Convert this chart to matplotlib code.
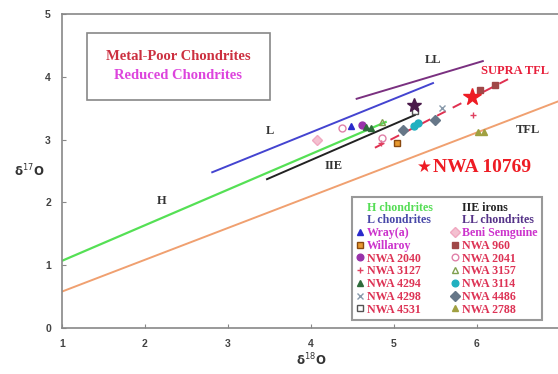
import matplotlib
matplotlib.use("Agg")
import matplotlib.pyplot as plt
from matplotlib.lines import Line2D
from matplotlib.patches import Rectangle

# ---- reference lines ----
H_x, H_y = [1.0, 4.9], [1.07, 3.28]
L_x, L_y = [2.81, 5.47], [2.48, 3.90]
LL_x, LL_y = [4.55, 6.07], [3.65, 4.25]
IIE_x, IIE_y = [3.47, 5.25], [2.37, 3.39]
TFL_x, TFL_y = [1.0, 7.0], [0.58, 3.62]
SUPRA_x, SUPRA_y = [4.77, 6.43], [2.87, 4.00]

# ---- meteorite points ----
names = ["Wray(a)", "Willaroy", "NWA 2040", "NWA 3127", "NWA 4294", "NWA 4298", "NWA 4531",
         "Beni Semguine", "NWA 960", "NWA 2041", "NWA 3157", "NWA 3114", "NWA 4486", "NWA 2788"]
pts_x = {"Wray(a)": [4.48], "Willaroy": [5.04], "NWA 2040": [4.61], "NWA 3127": [5.95, 4.84],
         "NWA 4294": [4.66, 4.72], "NWA 4298": [5.58], "NWA 4531": [5.25],
         "Beni Semguine": [4.07], "NWA 960": [6.04, 6.22], "NWA 2041": [4.86, 4.37],
         "NWA 3157": [4.86], "NWA 3114": [5.29, 5.24], "NWA 4486": [5.11, 5.49],
         "NWA 2788": [6.01, 6.08]}
pts_y = {"Wray(a)": [3.22], "Willaroy": [2.94], "NWA 2040": [3.23], "NWA 3127": [3.39, 2.95],
         "NWA 4294": [3.20, 3.19], "NWA 4298": [3.50], "NWA 4531": [3.45],
         "Beni Semguine": [2.99], "NWA 960": [3.79, 3.87], "NWA 2041": [3.02, 3.18],
         "NWA 3157": [3.28], "NWA 3114": [3.26, 3.22], "NWA 4486": [3.15, 3.31],
         "NWA 2788": [3.12, 3.12]}
NWA10769_x, NWA10769_y = [5.94], [3.68]
IIE_star_x, IIE_star_y = [5.24], [3.55]

xticks = [1, 2, 3, 4, 5, 6, 7]
yticks = [0, 1, 2, 3, 4, 5]

# styles: marker, face, edge, text color
sty = {"Wray(a)": ("^", "#2a2acc", "#2a2acc", "#cc33cc"),
       "Willaroy": ("s", "#e89a30", "#8a4a10", "#cc33cc"),
       "NWA 2040": ("o", "#9933aa", "#9933aa", "#dd3355"),
       "NWA 3127": ("+", "#e04060", "#e04060", "#dd3355"),
       "NWA 4294": ("^", "#2e6b3a", "#2e6b3a", "#dd3355"),
       "NWA 4298": ("x", "#8899aa", "#8899aa", "#dd3355"),
       "NWA 4531": ("s", "none", "#555555", "#dd3355"),
       "Beni Semguine": ("D", "#f4c0d0", "#f0a8c0", "#cc33cc"),
       "NWA 960": ("s", "#a04848", "#a04848", "#dd3355"),
       "NWA 2041": ("o", "none", "#e080a8", "#dd3355"),
       "NWA 3157": ("^", "none", "#80a050", "#dd3355"),
       "NWA 3114": ("o", "#20b0c0", "#20b0c0", "#dd3355"),
       "NWA 4486": ("D", "#667788", "#667788", "#dd3355"),
       "NWA 2788": ("^", "#a0a040", "#a0a040", "#dd3355")}

serif = "Liberation Serif"
fig = plt.figure(figsize=(5.58, 3.74), dpi=100)
ax = fig.add_axes([62/558, 46/374, 498/558, 314/374])
ax.set_xlim(1, 7)
ax.set_ylim(0, 5)

ax.plot(TFL_x, TFL_y, color="#f0a070", lw=1.4)
ax.plot(H_x, H_y, color="#55e055", lw=1.6)
ax.plot(L_x, L_y, color="#4444d0", lw=1.4)
ax.plot(LL_x, LL_y, color="#7a3080", lw=1.4)
ax.plot(IIE_x, IIE_y, color="#222222", lw=1.4)
ax.plot(SUPRA_x, SUPRA_y, color="#e03050", lw=1.4, ls=(0, (5, 4)))

for n in names:
    m, fc, ec, tc = sty[n]
    ax.plot(pts_x[n], pts_y[n], ls="none", marker=m, ms=5, mfc=fc, mec=ec, mew=1.0)
ax.plot(IIE_star_x, IIE_star_y, ls="none", marker="*", ms=10, mfc="#4a1a4a", mec="#4a1a4a")
ax.plot(NWA10769_x, NWA10769_y, ls="none", marker="*", ms=13, mfc="#ee1c24", mec="#ee1c24")

# labels on lines
lab = dict(fontfamily=serif, fontweight="bold", color="#333333", fontsize=9)
ax.text(2.2, 2.02, "H", ha="center", va="center", **lab)
ax.text(3.5, 3.14, "L", ha="center", va="center", **lab)
ax.text(5.47, 4.27, "LL", ha="center", va="center", **lab)
ax.text(4.27, 2.58, "IIE", ha="center", va="center", **lab)
ax.text(6.61, 3.15, "TFL", ha="center", va="center", **lab)
ax.text(6.46, 4.10, "SUPRA TFL", ha="center", va="center", fontfamily=serif,
        fontweight="bold", color="#e8203c", fontsize=9)
ax.text(5.37, 2.56, "★", ha="center", va="center", color="#ee1c24", fontsize=12,
        fontfamily="DejaVu Sans")
ax.text(5.47, 2.56, "NWA 10769", ha="left", va="center", color="#ee1c24", fontsize=14,
        fontfamily=serif, fontweight="bold")

# title box
ax.add_patch(Rectangle((0.050, 0.726), 0.368, 0.213, transform=ax.transAxes,
                       fc="white", ec="#888888", lw=1.2))
ax.text(0.233, 0.866, "Metal-Poor Chondrites", transform=ax.transAxes, ha="center", va="center",
        fontfamily=serif, fontweight="bold", fontsize=10.5, color="#cc3040")
ax.text(0.233, 0.803, "Reduced Chondrites", transform=ax.transAxes, ha="center", va="center",
        fontfamily=serif, fontweight="bold", fontsize=10.5, color="#dd44dd")

# legend
col1 = ["H chondrites", "L chondrites", "Wray(a)", "Willaroy", "NWA 2040", "NWA 3127",
        "NWA 4294", "NWA 4298", "NWA 4531"]
col2 = ["IIE irons", "LL chondrites", "Beni Semguine", "NWA 960", "NWA 2041", "NWA 3157",
        "NWA 3114", "NWA 4486", "NWA 2788"]
linecol = {"H chondrites": "#55dd55", "L chondrites": "#4848a8", "IIE irons": "#222222",
           "LL chondrites": "#553388"}
handles, labels, colors = [], [], []
for n in col1 + col2:
    if n in linecol:
        handles.append(Line2D([], [], ls="none"))
        colors.append(linecol[n])
    else:
        m, fc, ec, tc = sty[n]
        handles.append(Line2D([], [], ls="none", marker=m, ms=4.8, mfc=fc, mec=ec, mew=1.0))
        colors.append(tc)
    labels.append(n)
leg = ax.legend(handles, labels, ncol=2, loc="upper left",
                bbox_to_anchor=(352/558, 1-197/374), bbox_transform=fig.transFigure,
                prop=dict(family=serif, weight="bold", size=8.6), labelcolor=colors,
                handlelength=0.55, handletextpad=0.3, columnspacing=1.6, labelspacing=0.06,
                borderpad=0.4, borderaxespad=0, fancybox=False, framealpha=1)
leg.get_frame().set_edgecolor("#999999")
leg.get_frame().set_linewidth(1.5)

# axes styling
for s in ax.spines.values():
    s.set_color("#888888")
    s.set_linewidth(1.2)
ax.set_xticks(xticks)
ax.set_yticks(yticks)
ax.tick_params(direction="in", length=3, color="#888888", labelsize=7.5, labelcolor="#444444",
               pad=8)
for t in ax.get_xticklabels() + ax.get_yticklabels():
    t.set_fontweight("bold")
    t.set_fontfamily("Liberation Sans")
ax.set_xlabel("δ$^{18}$O", fontsize=8.5, color="#333333", fontweight="bold", labelpad=2)
ax.set_ylabel("δ$^{17}$O", fontsize=8.5, color="#333333", fontweight="bold", rotation=0,
              labelpad=10, va="center")
ax.yaxis.set_label_coords(-0.065, 0.5)

fig.savefig("out.png", dpi=100)
